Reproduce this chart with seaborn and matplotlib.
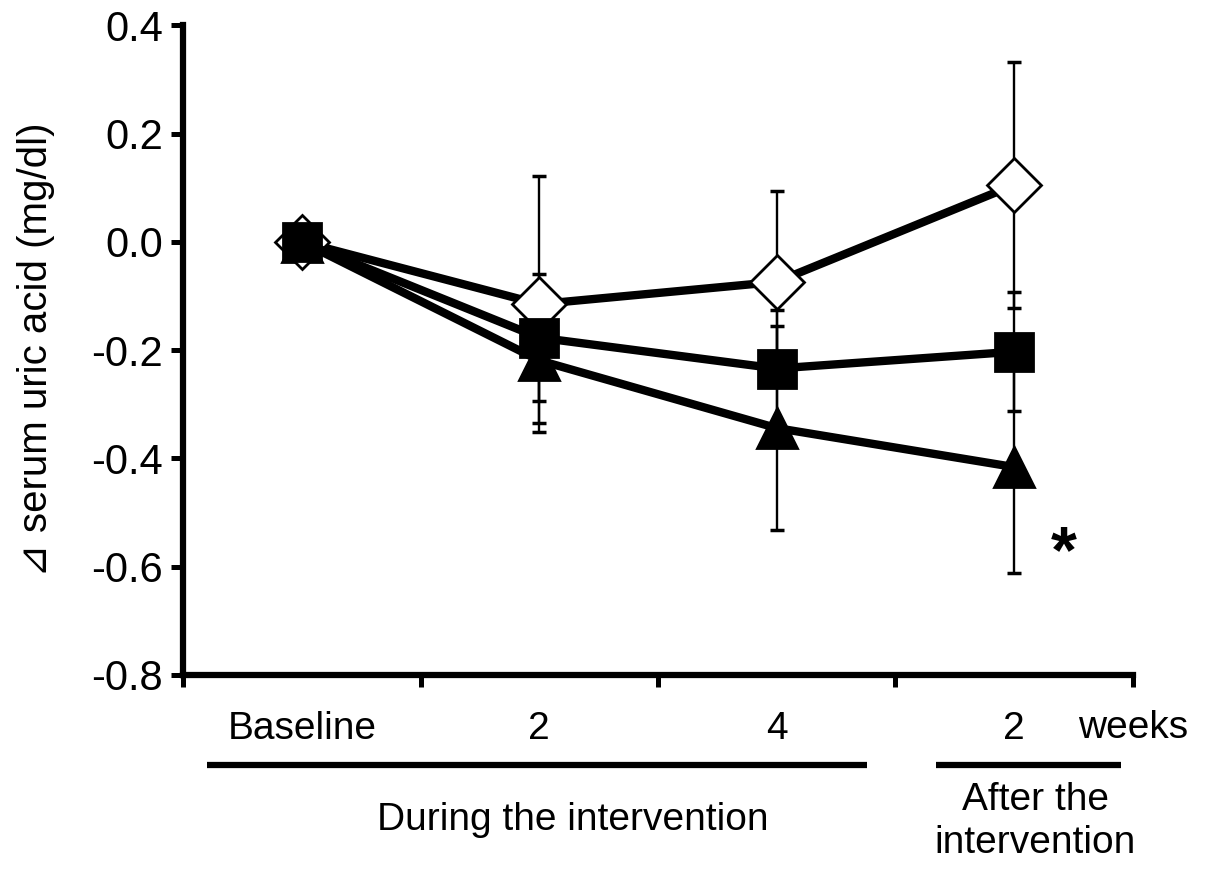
import numpy as np
import matplotlib
matplotlib.use("Agg")
import matplotlib.pyplot as plt
import seaborn as sns
import pandas as pd

# x positions of the four visits and their labels
positions = [0.5, 1.5, 2.5, 3.5]
tick_labels = ["Baseline", "2", "4", "2"]

# mean change and error (mg/dl) per group
diamond_mean = [0.0, -0.115, -0.074, 0.105]
diamond_err = [0.0, 0.237, 0.167, 0.228]
square_mean = [0.0, -0.177, -0.234, -0.203]
square_err = [0.0, 0.117, 0.109, 0.110]
triangle_mean = [0.0, -0.219, -0.344, -0.416]
triangle_err = [0.0, 0.115, 0.188, 0.195]

sns.set_style("ticks")
plt.rcParams['font.family'] = ['Liberation Sans', 'DejaVu Sans']
plt.rcParams['axes.unicode_minus'] = False
plt.rcParams['text.color'] = 'black'
plt.rcParams['axes.labelcolor'] = 'black'
plt.rcParams['xtick.color'] = 'black'
plt.rcParams['ytick.color'] = 'black'
plt.rcParams['axes.edgecolor'] = 'black'

fig = plt.figure(figsize=(12.05, 8.72), dpi=100)
ax = fig.add_axes([0.152, 0.226, 0.788, 0.745])

# draw order: triangle, diamond, square (square ends on top at baseline)
groups = [
    ("triangle", "^", "black", 29, triangle_mean, triangle_err, 3),
    ("diamond", "D", "white", 27, diamond_mean, diamond_err, 4),
    ("square", "s", "black", 27, square_mean, square_err, 5),
]

for name, m, fc, ms, mean, err, z in groups:
    ax.errorbar(positions, mean, yerr=err, fmt="none", ecolor="black",
                elinewidth=1.7, capsize=5, capthick=2.5, zorder=1)

for name, m, fc, ms, mean, err, z in groups:
    df = pd.DataFrame({"pos": positions, "mean": mean})
    sns.lineplot(data=df, x="pos", y="mean", ax=ax, color="black", lw=6,
                 marker=m, markersize=ms, markerfacecolor=fc,
                 markeredgecolor="black", markeredgewidth=2, zorder=z)

ax.set_xlim(0, 4)
ax.set_ylim(-0.8, 0.4)
yt = np.round(np.arange(-0.8, 0.41, 0.2), 1)
ax.set_yticks(yt)
ax.set_yticklabels([f"{abs(v):.1f}" if abs(v) < 1e-9 else f"{v:.1f}" for v in yt],
                   fontsize=30)
ax.set_xticks([0, 1, 2, 3, 4])
ax.set_xticklabels([])
ax.set_xticks(positions, minor=True)
ax.set_xticklabels(tick_labels, minor=True, fontsize=28)
ax.tick_params(axis="x", which="minor", length=0, pad=26)
ax.tick_params(axis="both", which="major", length=8.5, width=3.6, direction="out")
ax.tick_params(axis="y", pad=6)
ax.set_xlabel("")
ax.set_ylabel("⊿ serum uric acid (mg/dl)", fontsize=29)
ax.yaxis.set_label_coords(-0.135, 0.5)

for s in ["top", "right"]:
    ax.spines[s].set_visible(False)
for s in ["left", "bottom"]:
    ax.spines[s].set_linewidth(4.5)

tr = ax.get_xaxis_transform()
ax.text(3.77, -0.081, "weeks", transform=tr, fontsize=28, ha="left", va="center")
ax.plot([0.10, 2.88], [-0.138, -0.138], transform=tr, color="black", lw=4.5,
        clip_on=False, solid_capstyle="butt")
ax.plot([3.17, 3.95], [-0.138, -0.138], transform=tr, color="black", lw=4.5,
        clip_on=False, solid_capstyle="butt")
ax.text(1.64, -0.223, "During the intervention", transform=tr, fontsize=28,
        ha="center", va="center")
ax.text(3.59, -0.226, "After the\nintervention", transform=tr, fontsize=28,
        ha="center", va="center", linespacing=1.25)

ax.text(3.71, -0.578, "*", fontsize=48, fontweight="bold", ha="center", va="center")

fig.savefig("out.png", dpi=100)
